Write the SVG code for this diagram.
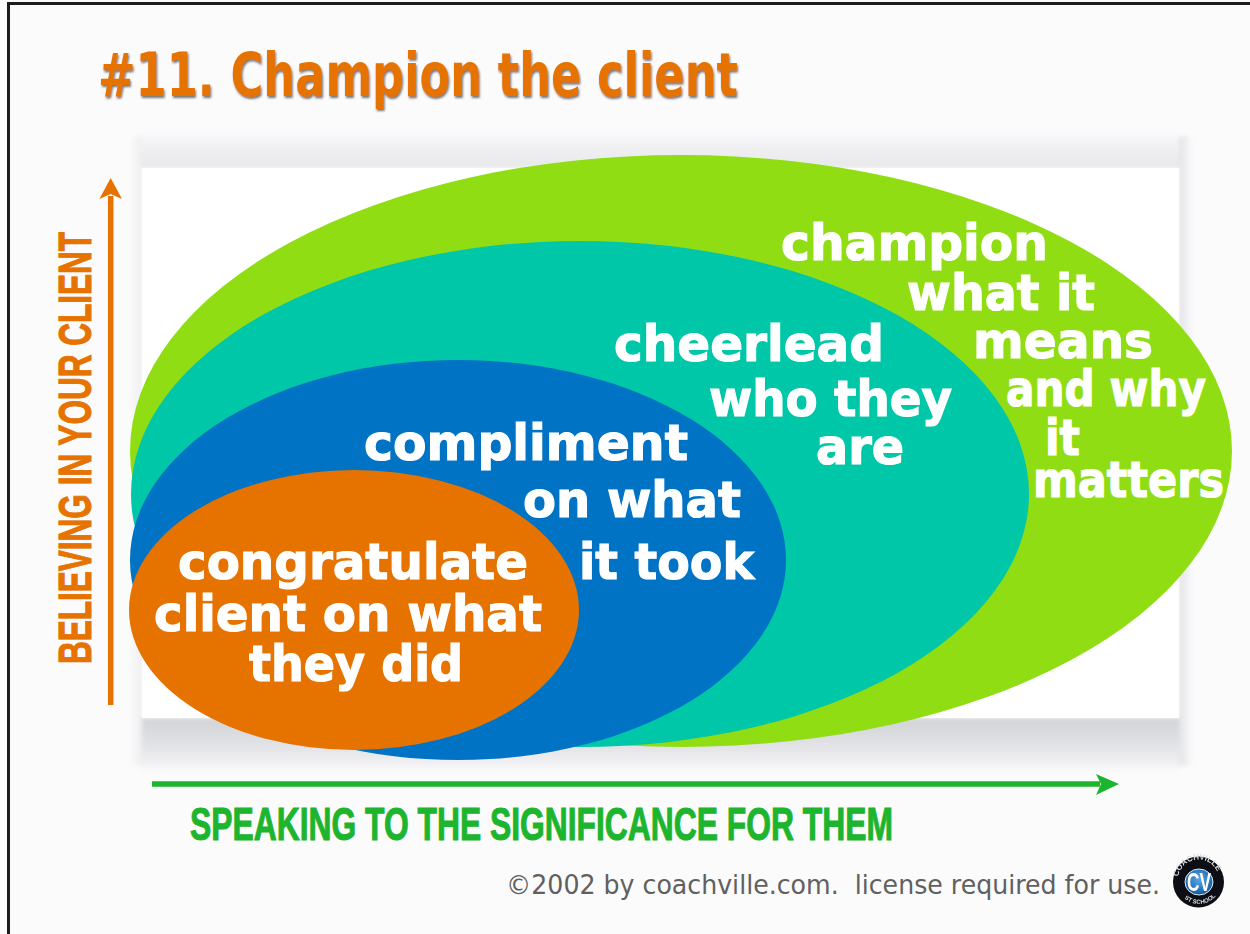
<svg xmlns="http://www.w3.org/2000/svg" width="1250" height="934" viewBox="0 0 1250 934">
<style>
.w{font-family:"DejaVu Sans",sans-serif;font-weight:700;font-size:50px;fill:#fff;stroke:#fff;stroke-width:1.2px}
.n{font-family:"Liberation Sans",sans-serif;font-weight:700}
.c{font-family:"DejaVu Sans Condensed","DejaVu Sans",sans-serif}
</style>
<defs>
<linearGradient id="sb" x1="0" y1="0" x2="0" y2="1"><stop offset="0" stop-color="#d2d3d6"/><stop offset=".55" stop-color="#e3e4e7"/><stop offset=".85" stop-color="#f1f1f4"/><stop offset="1" stop-color="#fbfbfc"/></linearGradient>
<linearGradient id="st" x1="0" y1="1" x2="0" y2="0"><stop offset="0" stop-color="#e6e7e9"/><stop offset=".5" stop-color="#f0f0f2"/><stop offset="1" stop-color="#fbfbfc"/></linearGradient>
<linearGradient id="sr" x1="0" y1="0" x2="1" y2="0"><stop offset="0" stop-color="#e2e3e5"/><stop offset="1" stop-color="#fbfbfc"/></linearGradient>
<linearGradient id="sl" x1="1" y1="0" x2="0" y2="0"><stop offset="0" stop-color="#eeeef0"/><stop offset="1" stop-color="#fbfbfc"/></linearGradient>
<filter id="sh" x="-5%" y="-10%" width="110%" height="125%"><feDropShadow dx="1" dy="2" stdDeviation="1.2" flood-color="#555" flood-opacity=".8"/></filter>
<filter id="bl" x="-5%" y="-5%" width="110%" height="110%"><feGaussianBlur stdDeviation="2"/></filter>
<filter id="soft" x="-20%" y="-20%" width="140%" height="140%"><feGaussianBlur stdDeviation=".5"/></filter>
<radialGradient id="cv" cx=".5" cy=".4" r=".6"><stop offset="0" stop-color="#58a8e6"/><stop offset="1" stop-color="#0f5aa3"/></radialGradient>
</defs>
<rect width="1250" height="934" fill="#fbfbfc"/>
<path d="M8.5,934V3.5H1250" fill="none" stroke="#1c1c1c" stroke-width="3"/>
<text id="title" x="98" y="96" class="c" font-weight="700" font-size="60" fill="#e67300" textLength="640" lengthAdjust="spacingAndGlyphs" filter="url(#sh)">#11. Champion the client</text>
<g id="panel">
<g filter="url(#bl)">
<rect x="142" y="130" width="1037" height="38" fill="url(#st)"/>
<rect x="142" y="718" width="1037" height="54" fill="url(#sb)"/>
<rect x="1179" y="136" width="14" height="630" fill="url(#sr)"/>
<rect x="130" y="136" width="12" height="630" fill="url(#sl)"/>
</g>
<rect x="142" y="168" width="1037" height="550" fill="#fff"/>
</g>
<g id="node-champion"><ellipse cx="681" cy="451" rx="551" ry="296" fill="#90dd14"/></g>
<g id="node-cheerlead"><ellipse cx="580" cy="494" rx="449" ry="253" fill="#00c7a8"/></g>
<g id="node-compliment"><ellipse cx="458" cy="560" rx="328" ry="200" fill="#0073c4"/></g>
<g id="node-congratulate"><ellipse cx="354" cy="610" rx="225" ry="140" fill="#e67300"/></g>
<g id="labels">
<text class="w" x="781" y="260" textLength="267" lengthAdjust="spacingAndGlyphs">champion</text>
<text class="w" x="907" y="310" textLength="188" lengthAdjust="spacingAndGlyphs">what it</text>
<text class="w" x="973" y="358" textLength="180" lengthAdjust="spacingAndGlyphs">means</text>
<text class="w" x="1006" y="406" textLength="200" lengthAdjust="spacingAndGlyphs">and why</text>
<text class="w" x="1045" y="455" textLength="35" lengthAdjust="spacingAndGlyphs">it</text>
<text class="w" x="1033" y="497" textLength="191" lengthAdjust="spacingAndGlyphs">matters</text>
<text class="w" x="614" y="361" textLength="270" lengthAdjust="spacingAndGlyphs">cheerlead</text>
<text class="w" x="709" y="416" textLength="243" lengthAdjust="spacingAndGlyphs">who they</text>
<text class="w" x="816" y="464" textLength="88" lengthAdjust="spacingAndGlyphs">are</text>
<text class="w" x="364" y="460" textLength="324" lengthAdjust="spacingAndGlyphs">compliment</text>
<text class="w" x="523" y="517" textLength="218" lengthAdjust="spacingAndGlyphs">on what</text>
<text class="w" x="579" y="579" textLength="175" lengthAdjust="spacingAndGlyphs">it took</text>
<text class="w" x="178" y="579" textLength="350" lengthAdjust="spacingAndGlyphs">congratulate</text>
<text class="w" x="154" y="631" textLength="388" lengthAdjust="spacingAndGlyphs">client on what</text>
<text class="w" x="249" y="681" textLength="214" lengthAdjust="spacingAndGlyphs">they did</text>
</g>
<g id="connectors">
<path d="M110.700,705V196" stroke="#e67300" stroke-width="5.500" fill="none"/>
<path d="M110.700,178L122,199L110.700,194L99.400,199Z" fill="#e67300"/>
<path d="M152,784H1100" stroke="#1cb52d" stroke-width="5.500" fill="none"/>
<path d="M1119,784L1096,774L1101,784L1096,795Z" fill="#1cb52d"/>
</g>
<text id="y-label" class="n" font-size="47" fill="#e67300" stroke="#e67300" stroke-width="1.100" transform="translate(91,664) rotate(-90)" textLength="432" lengthAdjust="spacingAndGlyphs">BELIEVING IN YOUR CLIENT</text>
<text id="x-label" class="n" font-size="47" fill="#1cb52d" stroke="#1cb52d" stroke-width="1.100" x="190" y="840" textLength="703" lengthAdjust="spacingAndGlyphs">SPEAKING TO THE SIGNIFICANCE FOR THEM</text>
<text id="copyright" x="506" y="894" class="c" font-size="27" fill="#606060" textLength="654" lengthAdjust="spacingAndGlyphs" xml:space="preserve">©2002 by coachville.com.  license required for use.</text>
<g id="logo" filter="url(#soft)">
<circle cx="1198.500" cy="882" r="25.500" fill="#0b0f14"/>
<ellipse cx="1199" cy="882" rx="14" ry="13" fill="url(#cv)" stroke="#dfe9f2" stroke-width="1"/>
<text x="1199" y="891" text-anchor="middle" class="n" font-size="25" fill="#fff" textLength="24" lengthAdjust="spacingAndGlyphs">CV</text>
<path id="la" d="M1178,880A20.500,20.500 0 0 1 1219,880" fill="none"/>
<text class="n" font-size="8" fill="#d8dde2"><textPath href="#la" startOffset="5%">COACHVILLE</textPath></text>
<path id="lb" d="M1183,897A22,22 0 0 0 1215,897" fill="none"/>
<text class="n" font-size="6" fill="#d8dde2"><textPath href="#lb" startOffset="5%">ST SCHOOL</textPath></text>
</g>
</svg>
